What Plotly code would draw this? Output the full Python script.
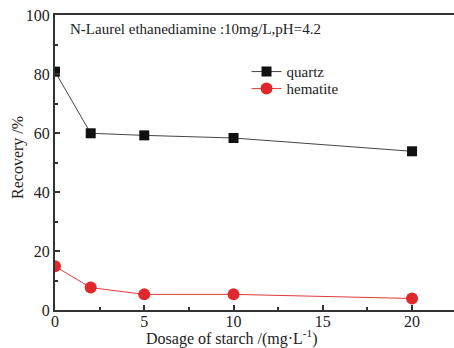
import plotly.graph_objects as go

dosage = [0, 2, 5, 10, 20]
quartz = [80.8, 59.9, 59.2, 58.3, 53.8]
hematite = [14.8, 7.6, 5.3, 5.3, 3.9]
x_ticks = [0, 5, 10, 15, 20]
y_ticks = [0, 20, 40, 60, 80, 100]

FONT = "Liberation Serif, Times New Roman, serif"
AX = "#333333"
TXT = "#222222"

fig = go.Figure()
fig.add_trace(go.Scatter(
    x=dosage, y=quartz, name="quartz", mode="lines+markers",
    line=dict(color="#444444", width=1),
    marker=dict(symbol="square", size=10, color="#111111"),
    legend="legend",
))
fig.add_trace(go.Scatter(
    x=dosage, y=hematite, name="hematite", mode="lines+markers",
    line=dict(color="#e03a3a", width=1),
    marker=dict(symbol="circle", size=12, color="#e0282c"),
    legend="legend2",
))

leg_common = dict(xanchor="left", yanchor="middle", bgcolor="rgba(0,0,0,0)",
                  font=dict(size=15, family=FONT, color=TXT), itemwidth=30)

fig.update_layout(
    width=454, height=348,
    margin=dict(l=55, r=0, t=15, b=38),
    paper_bgcolor="white", plot_bgcolor="white",
    font=dict(family=FONT, size=16, color=TXT),
    showlegend=True,
    legend=dict(x=0.48, y=(309.7 - 72) / 294.4, **leg_common),
    legend2=dict(x=0.48, y=(309.7 - 89) / 294.4, **leg_common),
    annotations=[
        dict(text="N-Laurel ethanediamine :10mg/L,pH=4.2",
             x=0.033, y=(309.7 - 29) / 294.4, xref="paper", yref="paper",
             xanchor="left", yanchor="middle", showarrow=False,
             font=dict(size=15, family=FONT, color=TXT)),
        dict(text="Dosage of starch /(mg·L<sup>-1</sup>)",
             x=(232 - 55) / 399, y=-(337 - 309.7) / 294.4, xref="paper", yref="paper",
             xanchor="center", yanchor="middle", showarrow=False,
             font=dict(size=16, family=FONT, color=TXT)),
        dict(text="Recovery /%", textangle=-90,
             x=(18 - 55) / 399, y=(309.7 - 158) / 294.4, xref="paper", yref="paper",
             xanchor="center", yanchor="middle", showarrow=False,
             font=dict(size=16, family=FONT, color=TXT)),
    ],
)

fig.update_xaxes(
    range=[0, 22.35], tickvals=x_ticks, ticktext=[str(v) for v in x_ticks],
    showline=True, linecolor=AX, linewidth=2, mirror=True,
    ticks="inside", ticklen=5, tickcolor=AX, tickwidth=1.5,
    minor=dict(ticks="inside", ticklen=3, dtick=2.5, tickcolor=AX, tickwidth=1.5),
    showgrid=False, zeroline=False, ticklabelstandoff=-4,
    tickfont=dict(size=16, family=FONT, color=TXT),
)
fig.update_yaxes(
    range=[0, 100], tickvals=y_ticks, ticktext=[str(v) for v in y_ticks],
    showline=True, linecolor=AX, linewidth=2, mirror=False,
    ticks="inside", ticklen=5, tickcolor=AX, tickwidth=1.5,
    minor=dict(ticks="inside", ticklen=3, dtick=10, tickcolor=AX, tickwidth=1.5),
    showgrid=False, zeroline=False,
    tickfont=dict(size=16, family=FONT, color=TXT),
)

fig.write_html("out.html")
